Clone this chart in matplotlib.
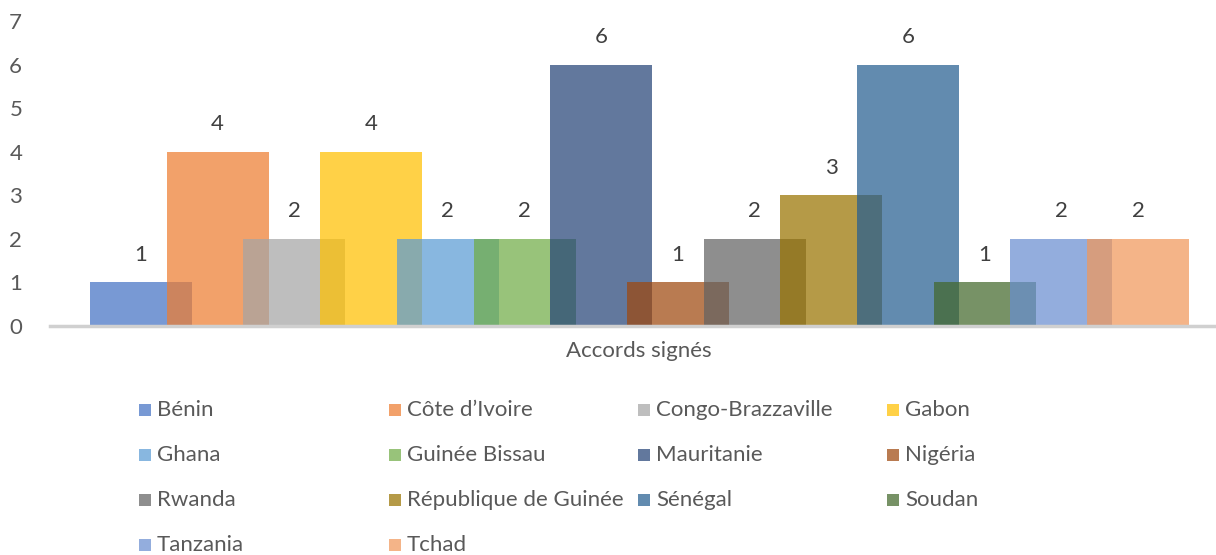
import matplotlib
matplotlib.use("Agg")
import matplotlib.pyplot as plt
from matplotlib.patches import Rectangle

countries = ["Bénin", "Côte d’Ivoire", "Congo-Brazzaville", "Gabon", "Ghana",
             "Guinée Bissau", "Mauritanie", "Nigéria", "Rwanda",
             "République de Guinée", "Sénégal", "Soudan", "Tanzania", "Tchad"]
values = [1, 4, 2, 4, 2, 2, 6, 1, 2, 3, 6, 1, 2, 2]
colors = ["#4472C4", "#ED7D31", "#A5A5A5", "#FFC000", "#5B9BD5", "#70AD47",
          "#264478", "#9E480E", "#636363", "#997300", "#255E91", "#43682B",
          "#698ED0", "#F1975A"]
category = "Accords signés"
yticks = [0, 1, 2, 3, 4, 5, 6, 7]

plt.rcParams['font.family'] = ['Lato', 'DejaVu Sans']
ALPHA = 0.72
TXT = "#595959"
FS = 16

W, H = 1216, 555
fig = plt.figure(figsize=(W / 100, H / 100), dpi=100)
ax = fig.add_axes([50 / W, 1 - 326 / H, (1228 - 50) / W, (326 - 21) / H])

step_px, width_px, first_center = 76.7, 102.0, 141.0
bw = width_px / step_px
xs = list(range(len(values)))
for x, v, c in zip(xs, values, colors):
    ax.bar(x, v, width=bw, color=c, alpha=ALPHA, linewidth=0, zorder=2)
    ax.annotate(str(v), xy=(x, v), xytext=(0, 20), textcoords="offset points",
                ha="center", va="center", fontsize=FS, color="#404040")

ax.set_xlim((50 - first_center) / step_px, (1228 - first_center) / step_px)
ax.set_ylim(0, 7)
ax.set_yticks(yticks)
ax.tick_params(axis="y", length=0, pad=20, labelsize=FS, labelcolor=TXT)
ax.set_xticks([])
for s in ["top", "right", "left"]:
    ax.spines[s].set_visible(False)
ax.spines["bottom"].set_color("#D0D0D0")
ax.spines["bottom"].set_linewidth(2.5)
ax.set_xlabel(category, fontsize=FS, color=TXT, labelpad=11)

# legend laid out like Excel: 4 equal columns
col_x = [139, 389, 638, 887]
row_y = [410, 455, 500, 545]
for i, (name, c) in enumerate(zip(countries, colors)):
    r, k = divmod(i, 4)
    mx, my = col_x[k], row_y[r]
    fig.add_artist(Rectangle((mx / W, 1 - (my + 6) / H), 12 / W, 12 / H,
                             transform=fig.transFigure, facecolor=c,
                             alpha=ALPHA, linewidth=0))
    fig.text((mx + 18) / W, 1 - my / H, name, fontsize=FS, color=TXT,
             ha="left", va="center")

fig.savefig("out.png", dpi=100, facecolor="white")
